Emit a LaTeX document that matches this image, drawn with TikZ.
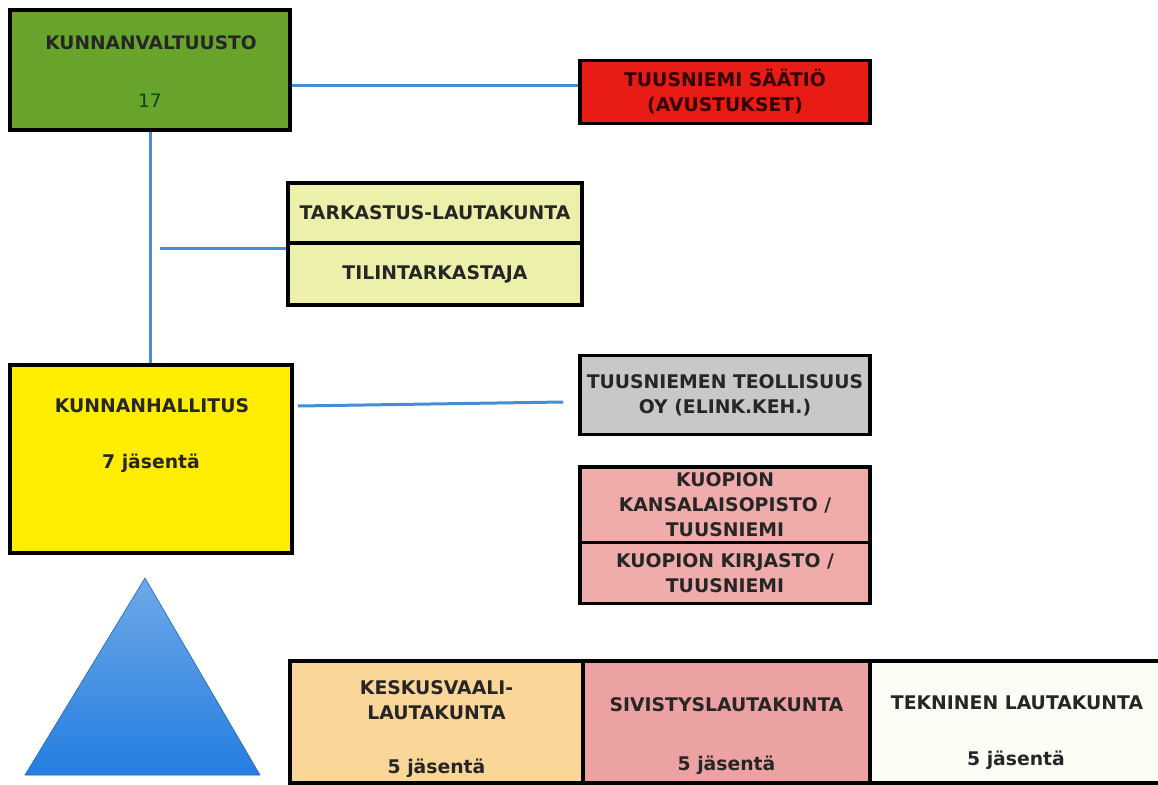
\documentclass[tikz,border=0pt]{standalone}
\usepackage{fontspec}
\setmainfont{DejaVu Sans}
\begin{document}
\begin{tikzpicture}[x=1pt,y=-1pt,
  box/.style={draw=black, line width=3.5pt, inner sep=0pt, align=center, text=black!85, font=\bfseries\fontsize{18.8}{25}\selectfont},
  lbl/.style={font=\bfseries\fontsize{18.8}{25}\selectfont, text=black!85, align=center},
  conn/.style={draw=linkblue, line width=3pt}]
\definecolor{kvgreen}{RGB}{104,164,44}
\definecolor{redbox}{RGB}{232,28,20}
\definecolor{paleyel}{RGB}{236,240,170}
\definecolor{yel}{RGB}{255,238,0}
\definecolor{greyb}{RGB}{200,200,198}
\definecolor{pinkb}{RGB}{240,172,170}
\definecolor{orangeb}{RGB}{250,214,152}
\definecolor{pinkc}{RGB}{236,162,162}
\definecolor{whiteb}{RGB}{253,253,246}
\definecolor{linkblue}{RGB}{70,140,215}
\definecolor{tritop}{RGB}{110,168,232}
\definecolor{tribot}{RGB}{36,126,224}
\useasboundingbox (0,0) rectangle (1158,784);
% boxes
\node[box, fill=kvgreen, minimum width=280, minimum height=120] (kv) at (150,70) {};
\node[lbl, font=\bfseries\fontsize{18.6}{20}\selectfont] (kvt) at (151,43) {KUNNANVALTUUSTO};
\node[font=\fontsize{18.5}{20}\selectfont, text=black!70!green] (kvn) at (150,101) {17};
\node[box, fill=redbox, text=black!80!red, minimum width=290, minimum height=63] (rs) at (725,92) {TUUSNIEMI SÄÄTIÖ\\(AVUSTUKSET)};
\node[box, fill=paleyel, minimum width=294, minimum height=60] (tl) at (435,213) {TARKASTUS-LAUTAKUNTA};
\node[box, fill=paleyel, minimum width=294, minimum height=62] (ti) at (435,274) {TILINTARKASTAJA};
\node[box, fill=yel, minimum width=282, minimum height=188] (kh) at (151,459) {};
\node[lbl] (kht) at (152,406) {KUNNANHALLITUS};
\node[lbl] (khn) at (151,463) {7 jäsentä};
\node[box, fill=greyb, minimum width=290, minimum height=79] (gr) at (725,395) {TUUSNIEMEN TEOLLISUUS\\OY (ELINK.KEH.)};
\node[box, fill=pinkb, minimum width=290, minimum height=76] (ko) at (725,505) {KUOPION\\KANSALAISOPISTO /\\TUUSNIEMI};
\node[box, fill=pinkb, minimum width=290, minimum height=61] (kk) at (725,573) {KUOPION KIRJASTO /\\TUUSNIEMI};
% bottom row
\node[box, fill=orangeb, minimum width=293, minimum height=122] (ke) at (436.5,722) {};
\node[box, fill=pinkc, minimum width=287, minimum height=122] (si) at (726.5,722) {};
\node[box, fill=whiteb, minimum width=292, minimum height=122] (te) at (1016,722) {};
\node[lbl] (ket) at (436.5,700) {KESKUSVAALI-\\LAUTAKUNTA};
\node[lbl] (ken) at (436.5,768) {5 jäsentä};
\node[lbl] (sit) at (726.5,705) {SIVISTYSLAUTAKUNTA};
\node[lbl] (sin) at (726.5,765) {5 jäsentä};
\node[lbl] (tet) at (1017,703) {TEKNINEN LAUTAKUNTA};
\node[lbl] (ten) at (1016,760) {5 jäsentä};
% triangle
\shade[top color=tritop, bottom color=tribot, draw=tribot!80!black, line width=0.6pt] (145,578) -- (260,775) -- (25,775) -- cycle;
% connectors
\coordinate (c0) at (0,85);
\coordinate (c1) at (160,248);
\coordinate (c2) at (298,406);
\coordinate (c3) at (563,402);
\draw[conn] (kv.east |- c0) -- (rs.west |- c0);
\draw[conn] (kv.south -| 150,0) -- (kh.north -| 150,0);
\draw[conn] (c1) -- (c1 -| tl.west);
\draw[conn] (c2) -- (c3);
\end{tikzpicture}
\end{document}
